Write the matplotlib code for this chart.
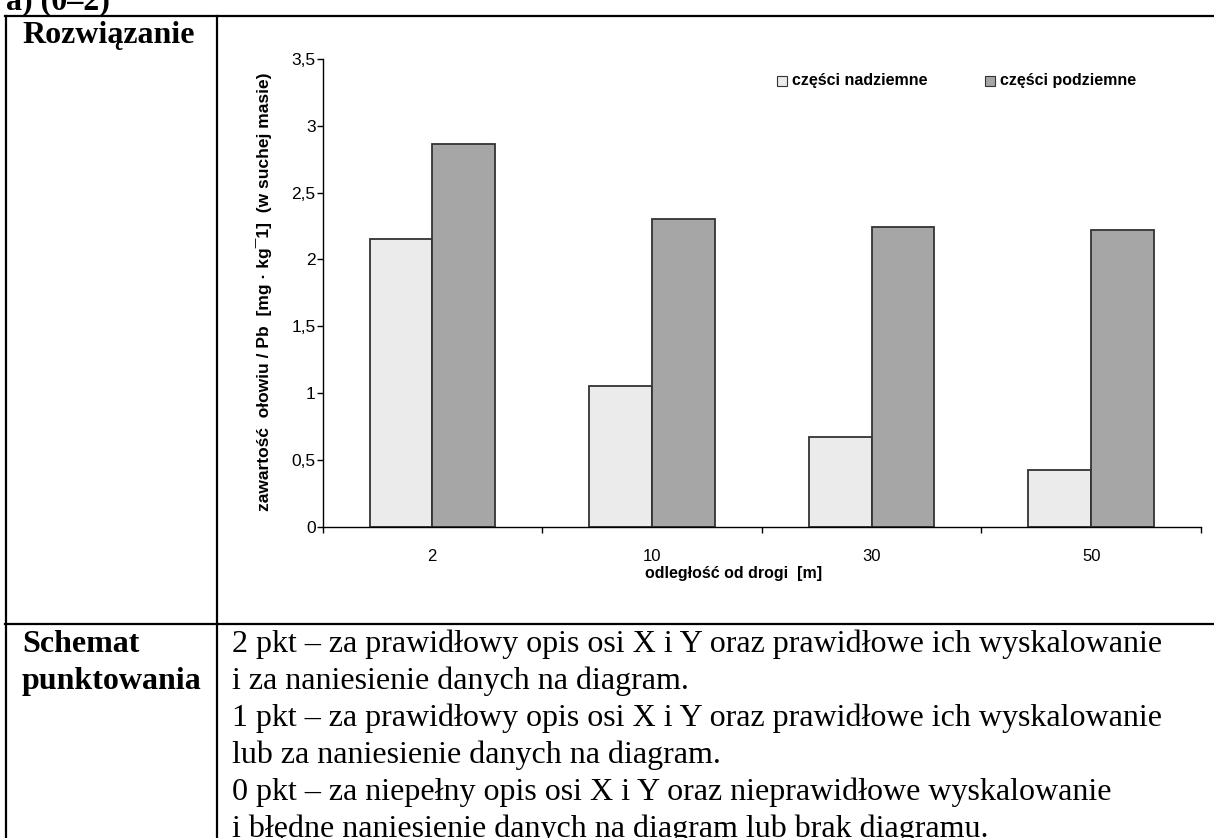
import numpy as np
import matplotlib.pyplot as plt
from matplotlib.lines import Line2D

# dane z wykresu
odleglosc = ['2', '10', '30', '50']
nadziemne = [2.15, 1.05, 0.67, 0.42]
podziemne = [2.86, 2.30, 2.24, 2.22]
y_ticks = [0, 0.5, 1, 1.5, 2, 2.5, 3, 3.5]
y_labels = ['0', '0,5', '1', '1,5', '2', '2,5', '3', '3,5']

punktowanie = [
    '2 pkt – za prawidłowy opis osi X i Y oraz prawidłowe ich wyskalowanie',
    'i za naniesienie danych na diagram.',
    '1 pkt – za prawidłowy opis osi X i Y oraz prawidłowe ich wyskalowanie',
    'lub za naniesienie danych na diagram.',
    '0 pkt – za niepełny opis osi X i Y oraz nieprawidłowe wyskalowanie',
    'i błędne naniesienie danych na diagram lub brak diagramu.',
]

W, H = 1214, 838
fig = plt.figure(figsize=(W / 100, H / 100), dpi=100)

def fx(px):
    return px / W

def fy(py):
    return 1 - py / H

# tabela
lw = 1.6
for x0, y0, x1, y1 in [(5, 16, W, 16), (6, 16, 6, H), (216.5, 16, 216.5, H), (5, 624, W, 624)]:
    fig.add_artist(Line2D([fx(x0), fx(x1)], [fy(y0), fy(y1)], color='black', lw=lw))

serif = 'Liberation Serif'
fs = 23
fig.text(fx(6), fy(9), 'a) (0–2)', family=serif, weight='bold', fontsize=fs, va='baseline')
fig.text(fx(22), fy(43), 'Rozwiązanie', family=serif, weight='bold', fontsize=fs, va='baseline')
fig.text(fx(22), fy(652), 'Schemat', family=serif, weight='bold', fontsize=fs, va='baseline')
fig.text(fx(22), fy(689), 'punktowania', family=serif, weight='bold', fontsize=fs, va='baseline')
for i, linia in enumerate(punktowanie):
    fig.text(fx(232), fy(652 + 37 * i), linia, family=serif, fontsize=fs, va='baseline')

# wykres
plt.rcParams['font.family'] = ['Liberation Sans', 'DejaVu Sans']
ax = fig.add_axes([fx(322.5), fy(526.5), fx(1201) - fx(322.5), fy(59) - fy(526.5)])

x = np.arange(len(odleglosc)) + 0.5
w = 1 / 3.5
ax.bar(x - w / 2, nadziemne, w, color='#EBEBEB', edgecolor='#333333', linewidth=1.3)
ax.bar(x + w / 2, podziemne, w, color='#A6A6A6', edgecolor='#333333', linewidth=1.3)

ax.set_xlim(0, 4)
ax.set_ylim(0, 3.5)
ax.set_yticks(y_ticks)
ax.set_yticklabels(y_labels, fontsize=12.5)
ax.set_xticks([0, 1, 2, 3, 4])
ax.set_xticklabels([])
ax.set_xticks(x, minor=True)
ax.set_xticklabels(odleglosc, minor=True, fontsize=12)
ax.tick_params(axis='both', which='major', direction='out', length=4, width=1, pad=1)
ax.tick_params(axis='x', which='minor', length=0, pad=16)
for s in ['top', 'right']:
    ax.spines[s].set_visible(False)
for s in ['left', 'bottom']:
    ax.spines[s].set_linewidth(1)

fig.text(fx(264), fy(292), 'zawartość  ołowiu / Pb  [mg · kg¯1]  (w suchej masie)',
         rotation=90, weight='bold', fontsize=12.5, ha='center', va='center')
fig.text(fx(645), fy(573), 'odległość od drogi  [m]', weight='bold', fontsize=11.5, ha='left', va='center')

# legenda
for px, kolor, tekst in [(777, '#EBEBEB', 'części nadziemne'), (985, '#A6A6A6', 'części podziemne')]:
    fig.patches.append(plt.Rectangle((fx(px), fy(86)), fx(10), fy(76) - fy(86), transform=fig.transFigure,
                                     facecolor=kolor, edgecolor='#333333', linewidth=0.8))
    fig.text(fx(px + 15), fy(81), tekst, weight='bold', fontsize=11.5, ha='left', va='center')

fig.savefig('out.png', dpi=100)
